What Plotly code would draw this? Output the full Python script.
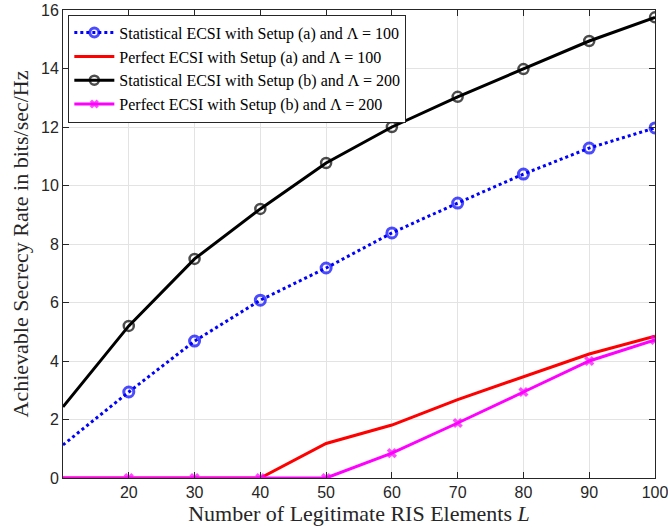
import plotly.graph_objects as go

L = [10, 20, 30, 40, 50, 60, 70, 80, 90, 100]
stat_a = [1.13, 2.94, 4.68, 6.08, 7.18, 8.38, 9.40, 10.39, 11.28, 11.97]
perf_a = [0, 0, 0, 0, 1.18, 1.81, 2.68, 3.47, 4.24, 4.85]
stat_b = [2.43, 5.20, 7.49, 9.20, 10.77, 12.00, 13.03, 13.98, 14.94, 15.75]
perf_b = [0, 0, 0, 0, 0, 0.85, 1.88, 2.94, 4.00, 4.72]

names = [
    "Statistical ECSI with Setup (a) and Λ = 100",
    "Perfect ECSI with Setup (a) and Λ = 100",
    "Statistical ECSI with Setup (b) and Λ = 200",
    "Perfect ECSI with Setup (b) and Λ = 200",
]

msize = [0] + [10] * (len(L) - 1)

fig = go.Figure()
fig.add_trace(go.Scatter(x=L, y=stat_a, name=names[0], mode="lines+markers",
                         line=dict(color="#0000ff", width=3, dash="dot"),
                         marker=dict(symbol="circle-open", size=msize, color="#0000ff",
                                     line=dict(width=3))))
fig.add_trace(go.Scatter(x=L, y=perf_a, name=names[1], mode="lines",
                         line=dict(color="#ff0000", width=3)))
fig.add_trace(go.Scatter(x=L, y=stat_b, name=names[2], mode="lines+markers",
                         line=dict(color="#000000", width=3),
                         marker=dict(symbol="circle-open", size=msize, color="#000000",
                                     line=dict(width=2.5))))
fig.add_trace(go.Scatter(x=L, y=perf_b, name=names[3], mode="lines+markers",
                         line=dict(color="#ff00ff", width=3),
                         marker=dict(symbol="x", size=[0] + [9] * (len(L) - 1), color="#ff00ff",
                                     line=dict(width=0))))

axis_common = dict(showline=True, linecolor="#262626", linewidth=1, mirror="ticks",
                   ticks="inside", ticklen=6, tickcolor="#262626",
                   showgrid=True, gridcolor="#e3e3e3", gridwidth=1, zeroline=False,
                   automargin=False, ticklabeloverflow="allow",
                   tickfont=dict(family="Liberation Sans, Arial", size=16, color="#262626"))

fig.update_layout(
    width=668, height=531,
    margin=dict(l=63, r=13, t=10, b=53, autoexpand=False),
    paper_bgcolor="white", plot_bgcolor="white",
    xaxis=dict(range=[10, 100], tickvals=[20, 30, 40, 50, 60, 70, 80, 90, 100],
               title=dict(text="Number of Legitimate RIS Elements <i>L</i>", standoff=4,
                          font=dict(family="Liberation Serif, Times New Roman", size=22, color="#262626")),
               **axis_common),
    yaxis=dict(range=[0, 16], tickvals=list(range(0, 17, 2)),
               title=dict(text="Achievable Secrecy Rate in bits/sec/Hz", standoff=6,
                          font=dict(family="Liberation Serif, Times New Roman", size=22, color="#262626")),
               **axis_common),
    legend=dict(x=0.009, y=0.99, xanchor="left", yanchor="top",
                bgcolor="white", bordercolor="#262626", borderwidth=1,
                font=dict(family="Liberation Serif, Times New Roman", size=16, color="#000000"),
                tracegroupgap=0, itemwidth=40),
    showlegend=True,
)

fig.write_html("out.html", config={"displayModeBar": False},
               post_script="document.body.style.margin='0';")
